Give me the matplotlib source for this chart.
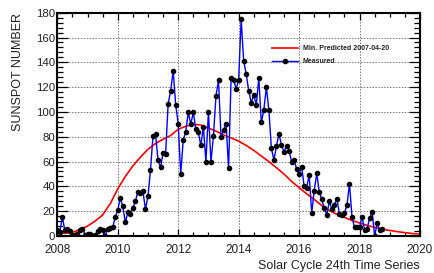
import numpy as np
import matplotlib
matplotlib.use("Agg")
import matplotlib.pyplot as plt
from matplotlib.ticker import MultipleLocator

plt.rcParams['font.family'] = ['Liberation Sans', 'DejaVu Sans']

# measured monthly sunspot number, Jan 2008 .. Oct 2018
measured = [
    # 2008
    4.8, 3.5, 15.5, 4.5, 5.5, 4.2, 1.0, 0.5, 1.5, 5.0, 6.0, 1.2,
    # 2009
    1.6, 1.6, 0.3, 0.5, 4.3, 6.0, 4.8, 0.0, 6.0, 6.5, 7.2, 15.0,
    # 2010
    21.0, 30.5, 24.0, 11.0, 19.0, 17.5, 22.5, 28.0, 35.5, 34.5, 36.0, 21.5,
    # 2011
    32.0, 53.0, 81.0, 82.0, 61.0, 55.5, 67.0, 66.0, 106.5, 117.0, 133.0, 106.0,
    # 2012
    90.5, 50.0, 77.5, 84.0, 99.8, 90.0, 99.8, 86.0, 83.5, 73.0, 88.0, 60.0,
    # 2013
    99.8, 60.0, 80.5, 113.0, 125.5, 79.8, 85.6, 90.4, 54.6, 127.3, 126.0, 118.4,
    # 2014
    126.0, 175.0, 141.0, 130.7, 117.0, 107.6, 113.3, 106.0, 127.4, 91.5, 101.7, 120.0,
    # 2015
    101.4, 70.6, 61.3, 72.4, 82.3, 73.4, 68.0, 72.6, 68.9, 60.0, 61.5, 54.0,
    # 2016
    50.0, 56.0, 40.5, 38.8, 49.2, 18.5, 36.6, 50.4, 35.8, 29.6, 22.3, 17.1,
    # 2017
    28.0, 21.5, 25.2, 30.1, 17.8, 17.3, 18.3, 24.8, 42.2, 15.4, 7.0, 7.0,
    # 2018
    7.0, 15.6, 4.8, 5.9, 14.3, 19.5, 0.0, 10.2, 4.8, 5.9,
]
measured_time = [2008 + i / 12 for i in range(len(measured))]

# predicted curve (NOAA panel 2007-04-20, low), quarterly
pred_time = [2008.0, 2008.25, 2008.5, 2008.75, 2009.0, 2009.25, 2009.5, 2009.75,
             2010.0, 2010.25, 2010.5, 2010.75, 2011.0, 2011.25, 2011.5, 2011.75,
             2012.0, 2012.25, 2012.5, 2012.75, 2013.0, 2013.25, 2013.5, 2013.75,
             2014.0, 2014.25, 2014.5, 2014.75, 2015.0, 2015.25, 2015.5, 2015.75,
             2016.0, 2016.25, 2016.5, 2016.75, 2017.0, 2017.25, 2017.5, 2017.75,
             2018.0, 2018.25, 2018.5, 2018.75, 2019.0, 2019.25, 2019.5, 2019.75,
             2020.0]
predicted = [2.5, 2.2, 3.0, 5.0, 8.0, 12.0, 17.0, 26.0,
             38.0, 48.0, 56.5, 63.5, 70.0, 74.5, 78.0, 81.0,
             86.0, 88.5, 90.0, 89.5, 87.0, 84.5, 81.5, 79.0,
             76.5, 73.0, 69.0, 64.5, 60.0, 55.0, 50.0, 44.0,
             39.0, 34.0, 29.5, 24.5, 20.5, 17.5, 15.0, 12.5,
             10.5, 8.5, 7.0, 5.5, 4.5, 3.5, 2.7, 2.0,
             1.5]

TXT = '#222222'

fig = plt.figure(figsize=(4.35, 2.73), dpi=100)
ax = fig.add_axes([57.3 / 435, 1 - 236 / 273, (420 - 57.3) / 435, (236 - 12.7) / 273])

ax.plot(pred_time, predicted, color='red', lw=1.2, zorder=2,
        label='Min. Predicted 2007-04-20')
ax.plot(measured_time, measured, color='blue', lw=1.0, marker='o', ms=3.0,
        mfc='black', mec='black', zorder=3, label='Measured')

ax.set_xlim(2008, 2020)
ax.set_ylim(0, 180)
ax.xaxis.set_major_locator(MultipleLocator(2))
ax.xaxis.set_minor_locator(MultipleLocator(0.5))
ax.yaxis.set_major_locator(MultipleLocator(20))
ax.yaxis.set_minor_locator(MultipleLocator(4))

ax.grid(True, which='major', color='#777777', lw=0.7, ls=(0, (1.5, 1.5)))

for s in ax.spines.values():
    s.set_linewidth(1.5)

ax.tick_params(which='both', direction='in', top=True, right=True,
               labelsize=8.5, labelcolor=TXT, width=0.9)
ax.tick_params(axis='y', which='major', length=8, pad=1.5, labelsize=8.2)
ax.tick_params(axis='y', which='minor', length=4)
ax.tick_params(axis='x', which='major', length=5, pad=5.5)
ax.tick_params(axis='x', which='minor', length=3)

ax.set_xlabel('Solar Cycle 24th Time Series', loc='right', fontsize=9,
              color=TXT, labelpad=3)
ax.set_ylabel('SUNSPOT NUMBER', loc='top', fontsize=9, color=TXT, labelpad=9)

leg = ax.legend(loc='upper left', bbox_to_anchor=(0.592, 0.855), frameon=False,
                prop={'size': 5, 'weight': 'bold'}, handlelength=3.7,
                handletextpad=0.7, labelspacing=0.9, borderpad=0,
                borderaxespad=0)
for t in leg.get_texts():
    t.set_color(TXT)

fig.savefig('out.png', dpi=100)
